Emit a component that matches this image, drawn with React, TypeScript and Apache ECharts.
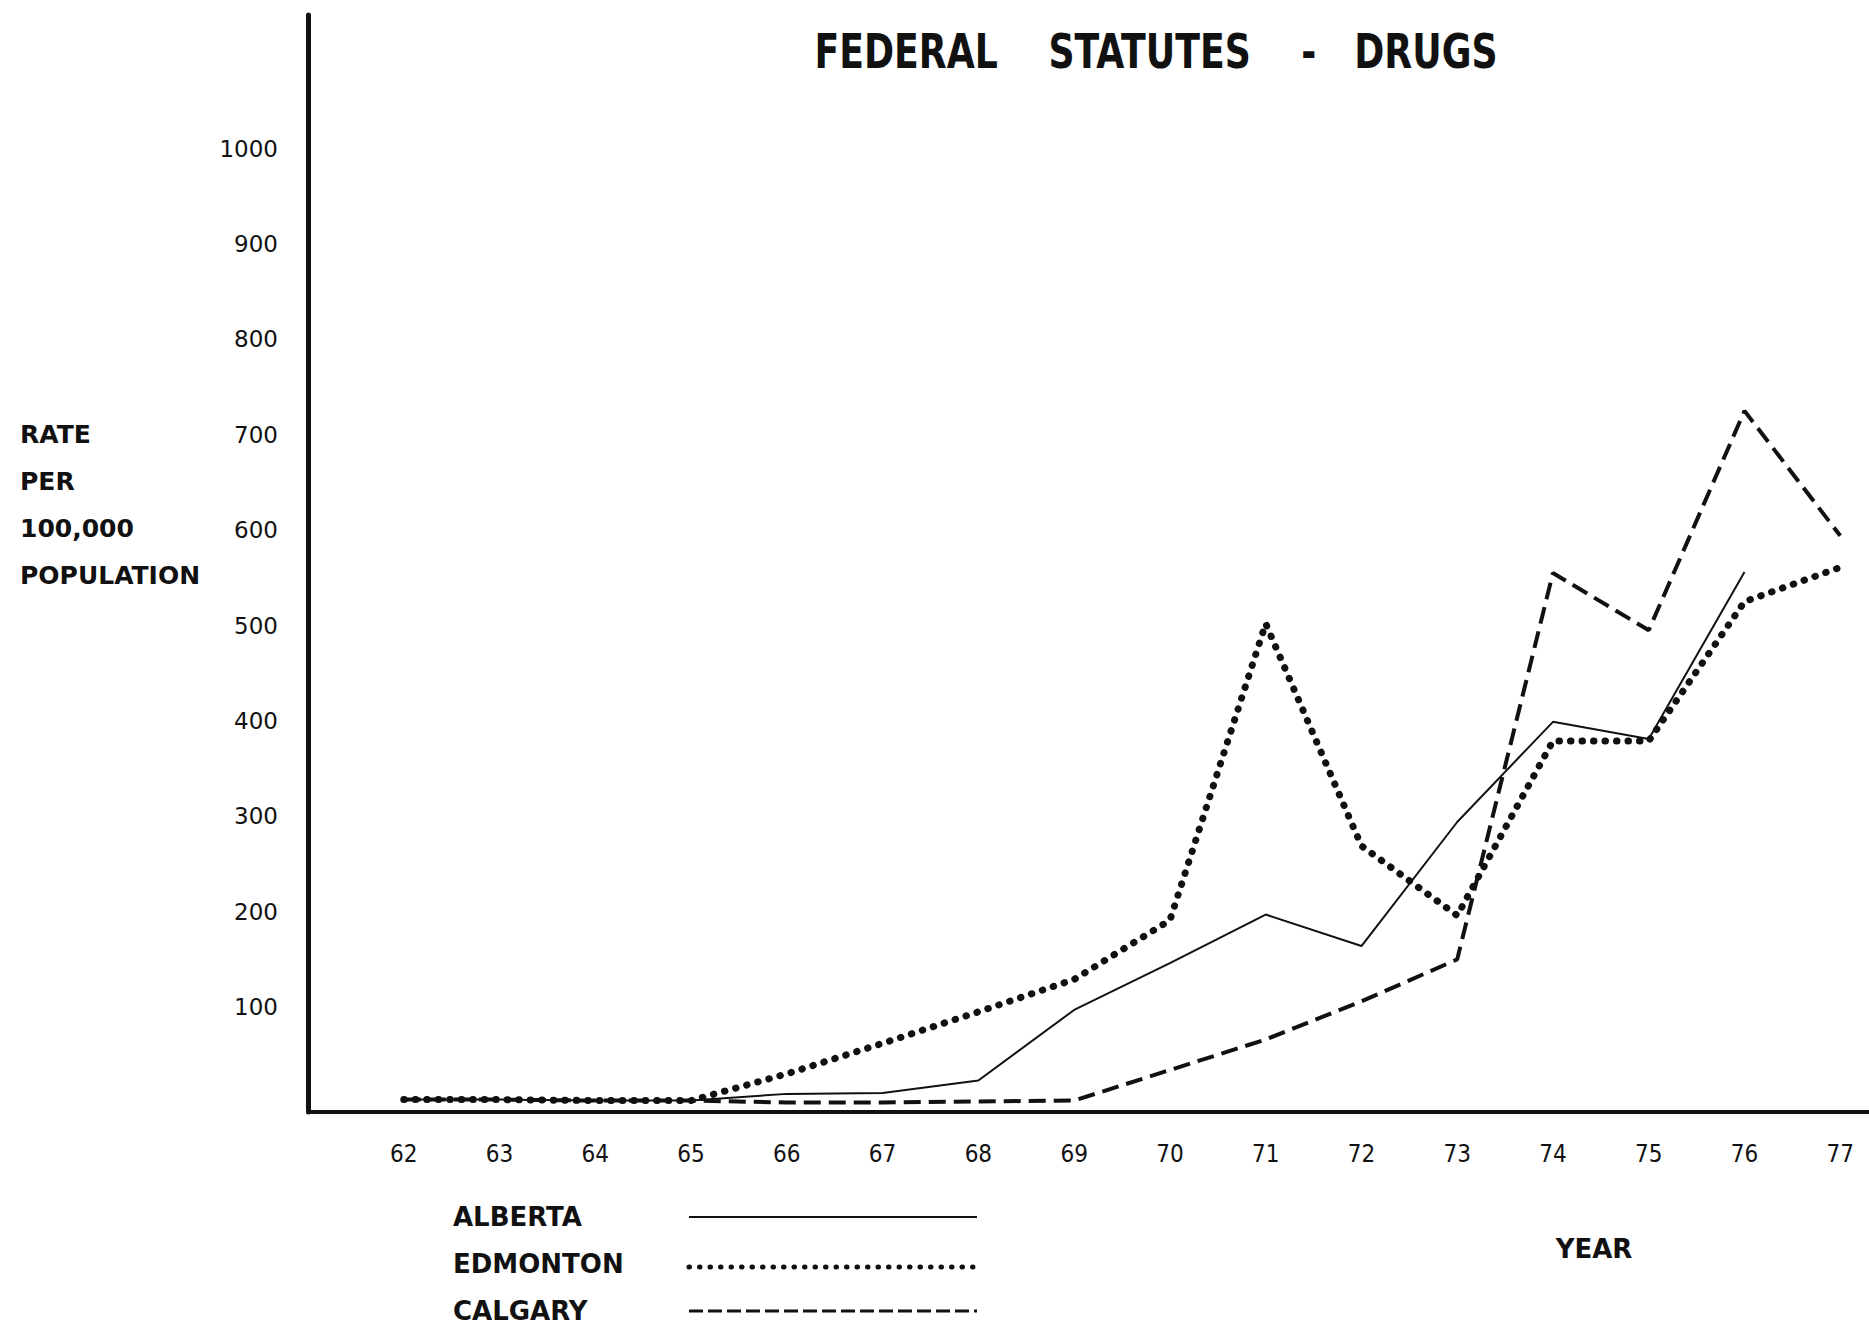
import React, { useEffect, useRef } from "react";
import * as echarts from "echarts";

// ---- data (rate per 100,000 population) ----
const years = [62, 63, 64, 65, 66, 67, 68, 69, 70, 71, 72, 73, 74, 75, 76, 77];
const albertaYears = [62, 63, 64, 65, 66, 67, 68, 69, 70, 71, 72, 73, 74, 75, 76];
const alberta = [3, 3, 2, 2, 9, 10, 23, 97, 146, 197, 164, 294, 399, 381, 556];
const edmonton = [3, 3, 2, 2, 30, 62, 95, 129, 191, 502, 269, 196, 379, 379, 525, 561];
const calgary = [3, 3, 2, 2, 0, 0, 1, 2, 34, 66, 106, 150, 555, 495, 725, 594];
const yTicks = [100, 200, 300, 400, 500, 600, 700, 800, 900, 1000];
const titleText = "FEDERAL    STATUTES    -   DRUGS";
const yTitle = "RATE\nPER\n100,000\nPOPULATION";
const legendNames = ["ALBERTA", "EDMONTON", "CALGARY"];

const INK = "#111";
const NARROW = "'Liberation Sans Narrow', 'DejaVu Sans Condensed', 'Roboto Condensed', sans-serif";
const BOLD = "'DejaVu Sans', 'Liberation Sans', sans-serif";

export default function App() {
  const ref = useRef<HTMLDivElement>(null);
  useEffect(() => {
    document.body.style.margin = "0";
    const chart = echarts.init(ref.current!, null, { renderer: "svg" });
    const pairs = (xs: number[], vs: number[]) => xs.map((x, i) => [x, vs[i]]);
    const legendY = [1217, 1264, 1311];
    const legendStyles = [
      { lineWidth: 2 },
      { lineWidth: 5, lineDash: [0.5, 10], lineCap: "round" },
      { lineWidth: 3, lineDash: [14, 5] },
    ];
    chart.setOption({
      animation: false,
      backgroundColor: "#ffffff",
      grid: { left: 308, right: 0, top: 15, bottom: 213 },
      xAxis: {
        type: "value",
        min: 61,
        max: 77.3,
        axisLine: { show: true, onZero: false, lineStyle: { color: INK, width: 4 } },
        axisTick: { show: false },
        splitLine: { show: false },
        axisLabel: {
          customValues: years,
          formatter: (v: number) => String(v),
          margin: 30,
          fontFamily: NARROW,
          fontSize: 24,
          color: INK,
        },
      },
      yAxis: {
        type: "value",
        min: -10,
        max: 1140,
        axisLine: { show: true, lineStyle: { color: INK, width: 5 } },
        axisTick: { show: false },
        splitLine: { show: false },
        axisLabel: {
          customValues: yTicks,
          formatter: (v: number) => String(v),
          margin: 30,
          fontFamily: BOLD,
          fontSize: 23,
          color: INK,
        },
      },
      series: [
        {
          name: "ALBERTA",
          type: "line",
          symbol: "none",
          data: pairs(albertaYears, alberta),
          lineStyle: { color: INK, width: 2 },
          z: 3,
        },
        {
          name: "EDMONTON",
          type: "line",
          symbol: "none",
          data: pairs(years, edmonton),
          lineStyle: { color: INK, width: 7, type: [0.5, 11], cap: "round" },
          z: 2,
        },
        {
          name: "CALGARY",
          type: "line",
          symbol: "none",
          data: pairs(years, calgary),
          lineStyle: { color: INK, width: 4, type: [17, 8] },
          z: 2,
        },
      ],
      graphic: [
        {
          type: "text",
          x: 1156,
          y: 51,
          scaleX: 0.84,
          style: {
            text: titleText,
            fontFamily: NARROW,
            fontWeight: "bold",
            fontSize: 48,
            fill: INK,
            textAlign: "center",
            textVerticalAlign: "middle",
          },
        },
        {
          type: "text",
          x: 20,
          y: 411,
          style: { text: yTitle, fontFamily: BOLD, fontWeight: "bold", fontSize: 25, lineHeight: 47, fill: INK },
        },
        {
          type: "text",
          x: 1594,
          y: 1249,
          style: { text: "YEAR", fontFamily: BOLD, fontWeight: "bold", fontSize: 26, fill: INK, textAlign: "center", textVerticalAlign: "middle" },
        },
        ...legendNames.map((n, i) => ({
          type: "text",
          x: 453,
          y: legendY[i],
          style: { text: n, fontFamily: BOLD, fontWeight: "bold", fontSize: 26, fill: INK, textVerticalAlign: "middle" },
        })),
        ...legendNames.map((n, i) => ({
          type: "line",
          shape: { x1: 689, y1: legendY[i] + (i === 1 ? 3 : 0), x2: 977, y2: legendY[i] + (i === 1 ? 3 : 0) },
          style: { stroke: INK, ...legendStyles[i] },
        })),
      ],
    });
    return () => chart.dispose();
  }, []);
  return <div ref={ref} style={{ width: 1869, height: 1325 }} />;
}
